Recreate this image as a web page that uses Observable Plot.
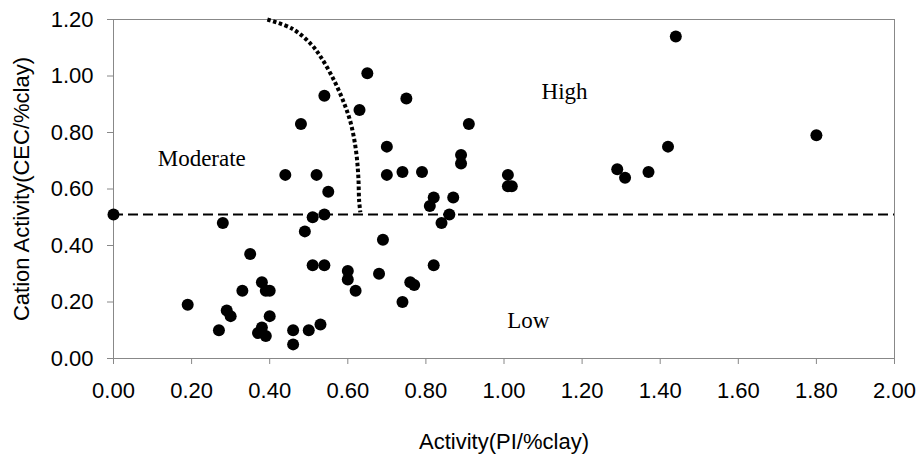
<!DOCTYPE html>
<html>
<head>
<meta charset="utf-8">
<script src="https://cdn.jsdelivr.net/npm/d3@7"></script>
<script src="https://cdn.jsdelivr.net/npm/@observablehq/plot@0.6"></script>
<style>
  html, body { margin: 0; padding: 0; background: #fff; }
  #chart svg { display: block; }
</style>
</head>
<body>
<div id="chart"></div>
<script>
// Data: activity (PI/%clay) vs cation activity (CEC/%clay)
const activityPI = [0.00,0.19,0.27,0.28,0.29,0.30,0.33,0.35,0.37,0.38,0.38,0.39,0.39,0.40,0.40,0.44,0.46,0.46,0.48,0.49,0.50,0.51,0.51,0.53,0.52,0.54,0.54,0.54,0.55,0.60,0.60,0.62,0.63,0.65,0.68,0.69,0.70,0.70,0.74,0.74,0.75,0.76,0.77,0.79,0.81,0.82,0.82,0.84,0.86,0.87,0.89,0.89,0.91,1.01,1.02,1.01,1.29,1.31,1.37,1.42,1.44,1.80];
const cationCEC = [0.51,0.19,0.10,0.48,0.17,0.15,0.24,0.37,0.09,0.11,0.27,0.08,0.24,0.24,0.15,0.65,0.05,0.10,0.83,0.45,0.10,0.50,0.33,0.12,0.65,0.93,0.51,0.33,0.59,0.31,0.28,0.24,0.88,1.01,0.30,0.42,0.65,0.75,0.20,0.66,0.92,0.27,0.26,0.66,0.54,0.57,0.33,0.48,0.51,0.57,0.69,0.72,0.83,0.61,0.61,0.65,0.67,0.64,0.66,0.75,1.14,0.79];

// Boundary lines
const boundaryLowY = 0.51;                 // horizontal dashed boundary
const curveX = [0.394,0.458,0.505,0.531,0.565,0.591,0.608,0.621,0.627,0.629,0.632];
const curveY = [1.200,1.167,1.114,1.067,0.984,0.902,0.831,0.736,0.642,0.559,0.518];

// Region labels
const regionNames = ["Moderate","High","Low"];
const regionX = [0.226,1.155,1.062];
const regionY = [0.708,0.945,0.135];

const xTicks = [0,0.2,0.4,0.6,0.8,1.0,1.2,1.4,1.6,1.8,2.0];
const yTicks = [0,0.2,0.4,0.6,0.8,1.0,1.2];

const points = activityPI.map((x, i) => ({x, y: cationCEC[i]}));
const curve = curveX.map((x, i) => ({x, y: curveY[i]}));
const regions = regionNames.map((name, i) => ({name, x: regionX[i], y: regionY[i]}));

const fmt = d3.format(".2f");

const chart = Plot.plot({
  width: 921,
  height: 454,
  marginLeft: 113,
  marginRight: 27,
  marginTop: 19,
  marginBottom: 96,
  style: {fontFamily: "'Liberation Sans', Arial, sans-serif", fontSize: "22px", color: "#000", background: "#fff"},
  x: {domain: [0, 2], ticks: xTicks, tickFormat: fmt},
  y: {domain: [0, 1.2], ticks: yTicks, tickFormat: fmt},
  marks: [
    Plot.frame({stroke: "#888", strokeWidth: 1}),
    Plot.axisX({ticks: xTicks, tickFormat: fmt, tickSize: 6, tickPadding: 18, stroke: "#888",
      label: "Activity(PI/%clay)", labelAnchor: "center", labelArrow: "none", labelOffset: 90, fontSize: 22}),
    Plot.axisY({ticks: yTicks, tickFormat: fmt, tickSize: 6, tickPadding: 14, stroke: "#888",
      label: "Cation Activity(CEC/%clay)", labelAnchor: "center", labelArrow: "none", labelOffset: 100, fontSize: 22}),
    Plot.ruleY([boundaryLowY], {stroke: "#000", strokeWidth: 2, strokeDasharray: "10,5"}),
    Plot.line(curve, {x: "x", y: "y", curve: "catmull-rom", stroke: "#000", strokeWidth: 4, strokeDasharray: "3.5,2.5", strokeLinecap: "butt"}),
    Plot.dot(points, {x: "x", y: "y", r: 6, fill: "#000", stroke: "none"}),
    Plot.text(regions, {x: "x", y: "y", text: "name", fontFamily: "'Liberation Serif', 'Times New Roman', serif", fontSize: 23, fill: "#000"})
  ]
});
document.getElementById("chart").appendChild(chart);
</script>
</body>
</html>
